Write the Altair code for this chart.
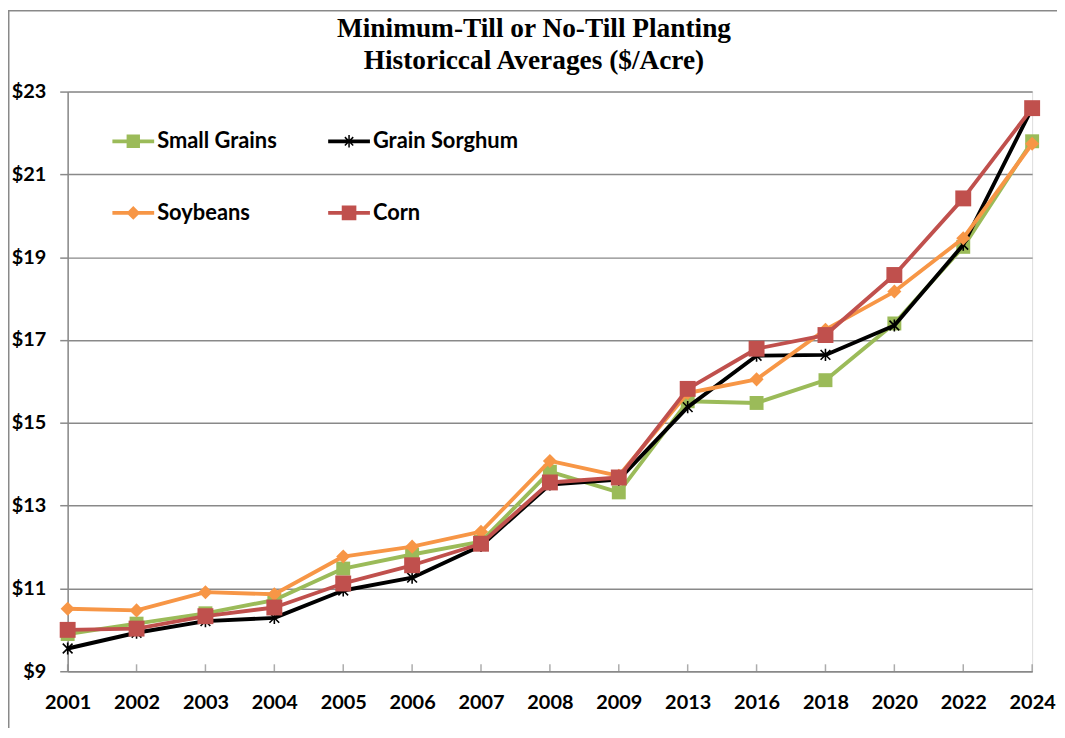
import altair as alt
import pandas as pd

years = ["2001", "2002", "2003", "2004", "2005", "2006", "2007", "2008", "2009",
         "2013", "2016", "2018", "2020", "2022", "2024"]
series_names = ["Small Grains", "Grain Sorghum", "Soybeans", "Corn"]
small_grains = [9.90, 10.15, 10.40, 10.72, 11.48, 11.82, 12.13, 13.82, 13.32, 15.52, 15.48, 16.03, 17.40, 19.25, 21.80]
grain_sorghum = [9.55, 9.93, 10.21, 10.29, 10.95, 11.26, 12.03, 13.51, 13.63, 15.38, 16.62, 16.64, 17.35, 19.30, 22.60]
soybeans = [10.51, 10.47, 10.91, 10.86, 11.77, 12.01, 12.37, 14.08, 13.72, 15.72, 16.05, 17.25, 18.17, 19.46, 21.74]
corn = [10.00, 10.03, 10.33, 10.54, 11.12, 11.56, 12.08, 13.56, 13.68, 15.82, 16.79, 17.12, 18.57, 20.42, 22.60]
y_ticks = [9, 11, 13, 15, 17, 19, 21, 23]

colors = ["#9BBB59", "#000000", "#F79646", "#C0504D"]
GRAY = "#898989"
W, H = 970, 583
FONT = "Lato"

rows = []
for name, vals in zip(series_names, [small_grains, grain_sorghum, soybeans, corn]):
    for yr, v in zip(years, vals):
        rows.append({"year": yr, "series": name, "value": v})
df = pd.DataFrame(rows)

x_axis = alt.Axis(title=None, labelAngle=0, ticks=False, grid=False, domainColor=GRAY,
                  domainWidth=1.5, labelPadding=21, labelFont=FONT, labelFontSize=20,
                  labelFontWeight="bold", labelColor="black")
y_axis = alt.Axis(title=None, values=y_ticks, labelExpr="'$' + datum.value", tickSize=8,
                  tickColor=GRAY, tickWidth=1.5, grid=True, gridColor=GRAY, gridWidth=1.5,
                  domainColor=GRAY, domainWidth=1.5, labelPadding=14, labelFont=FONT,
                  labelFontSize=20, labelFontWeight="bold", labelColor="black")

x_enc = alt.X("year:O", sort=years, scale=alt.Scale(type="point", padding=0), axis=x_axis)
y_enc = alt.Y("value:Q", scale=alt.Scale(domain=[9, 23], nice=False, zero=False), axis=y_axis)
color_scale = alt.Scale(domain=series_names, range=colors)

ASTER = "M-0.8,-0.8L0.8,0.8M-0.8,0.8L0.8,-0.8M0,-1V1"

marker_specs = {
    "Small Grains": dict(shape="square", filled=True, size=196),
    "Grain Sorghum": dict(shape=ASTER, filled=False, size=150, strokeWidth=1.6),
    "Soybeans": dict(shape="diamond", filled=True, size=200),
    "Corn": dict(shape="square", filled=True, size=256),
}

# legend glyphs: line segment with marker (unit coords, 1 unit = 21px)
LINE = "M-1,-0.09H1V0.09H-1Z"
legend_paths = [
    LINE + "M-0.32,-0.32H0.32V0.32H-0.32Z",
    LINE + "M-0.036,-0.3H0.036V0.3H-0.036Z"
           "M-0.175,-0.225L0.225,0.175L0.175,0.225L-0.225,-0.175Z"
           "M-0.225,0.175L0.175,-0.225L0.225,-0.175L-0.175,0.225Z",
    LINE + "M0,-0.33L0.33,0L0,0.33L-0.33,0Z",
    LINE + "M-0.35,-0.35H0.35V0.35H-0.35Z",
]
leg = alt.Legend(title=None, orient="none", legendX=45, legendY=29, columns=2,
                 direction="horizontal",
                 symbolSize=1764, symbolStrokeWidth=0, symbolOpacity=1,
                 labelFont=FONT, labelFontSize=22, labelFontWeight="bold",
                 labelColor="black", labelOffset=3, rowPadding=40, columnPadding=51,
                 padding=0)
legend_layer = alt.Chart(df).mark_point(filled=True, opacity=0, size=10).encode(
    x=x_enc, y=y_enc,
    color=alt.Color("series:N", scale=color_scale, legend=leg),
    shape=alt.Shape("series:N", scale=alt.Scale(domain=series_names, range=legend_paths), legend=leg),
)

layers = []
for name, col in zip(series_names, colors):
    base = alt.Chart(df).transform_filter(alt.datum.series == name)
    enc = dict(x=x_enc, y=y_enc, color=alt.value(col))
    layers.append(base.mark_line(strokeWidth=3.9, strokeJoin="round").encode(**enc))
    layers.append(base.mark_point(opacity=1, **marker_specs[name]).encode(**enc))

ticks = alt.Chart(pd.DataFrame({"year": years})).mark_tick(
    orient="vertical", size=7, thickness=1.5, color=GRAY
).encode(x=x_enc, y=alt.value(H - 3.5))

border = alt.Chart(pd.DataFrame({"a": [0]})).mark_rect(
    fill="transparent", stroke=GRAY, strokeWidth=1.5
).encode(x=alt.value(-59.25), x2=alt.value(W + 300), y=alt.value(-81.25), y2=alt.value(H + 300))

chart = alt.layer(legend_layer, border, ticks, *layers).properties(
    width=W, height=H,
    title=alt.Title(["Minimum-Till or No-Till Planting", "Historiccal Averages ($/Acre)"],
                    font="Liberation Serif", fontSize=27.5, fontWeight="bold", color="black",
                    anchor="middle", frame="group", dx=-16, offset=-64.6, lineHeight=32),
    padding={"left": 60, "top": 82, "right": 25, "bottom": 55},
    autosize=alt.AutoSizeParams(type="none"),
).configure_view(stroke="transparent").configure(background="white")

chart.save("out.html", embed_options={"renderer": "svg", "actions": False})
